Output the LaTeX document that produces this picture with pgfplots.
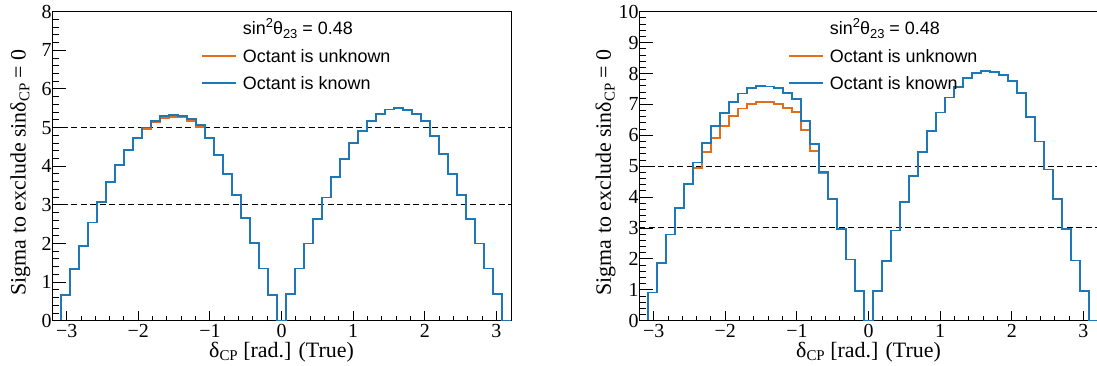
\documentclass[border=0pt]{standalone}
\usepackage{fontspec}
\setmainfont{Liberation Serif}
\setsansfont{Liberation Sans}
\usepackage{pgfplots}
\pgfplotsset{compat=1.18}
\usepackage{pgfplotstable}
\definecolor{corange}{RGB}{228,110,24}
\definecolor{cblue}{RGB}{30,120,182}
\newcommand{\lsub}[1]{\raisebox{-0.38ex}{\fontsize{15}{15}\selectfont #1}}
\newcommand{\ssub}[1]{\raisebox{-0.4ex}{\fontsize{13}{13}\selectfont #1}}
\newcommand{\ssup}[1]{\raisebox{0.7ex}{\fontsize{13}{13}\selectfont #1}}

\pgfplotstableread{
x lk lu rk ru
-3.2044 0 0 0 0
-3.0788 0.66 0.66 0.91 0.91
-2.9531 1.33 1.33 1.88 1.88
-2.8274 1.94 1.94 2.79 2.79
-2.7018 2.54 2.54 3.65 3.65
-2.5761 3.08 3.08 4.43 4.43
-2.4504 3.59 3.59 5.12 4.95
-2.3248 4.03 4.03 5.76 5.46
-2.1991 4.42 4.42 6.29 5.91
-2.0735 4.74 4.74 6.73 6.31
-1.9478 5.00 4.96 7.09 6.63
-1.8221 5.18 5.13 7.35 6.87
-1.6965 5.29 5.24 7.52 7.00
-1.5708 5.33 5.28 7.59 7.07
-1.4451 5.31 5.26 7.58 7.07
-1.3195 5.23 5.17 7.52 7.01
-1.1938 5.07 5.02 7.38 6.89
-1.0681 4.73 4.73 7.18 6.75
-0.9425 4.28 4.28 6.46 6.16
-0.8168 3.80 3.80 5.72 5.48
-0.6912 3.25 3.25 4.82 4.77
-0.5655 2.66 2.66 3.95 3.95
-0.4398 2.01 2.01 2.98 2.98
-0.3142 1.35 1.35 1.98 1.98
-0.1885 0.66 0.66 0.96 0.96
-0.0628 0 0 0 0
0.0628 0.70 0.70 0.97 0.97
0.1885 1.35 1.35 1.94 1.94
0.3142 2.00 2.00 2.92 2.92
0.4398 2.64 2.64 3.84 3.84
0.5655 3.19 3.19 4.67 4.67
0.6912 3.72 3.72 5.45 5.45
0.8168 4.18 4.18 6.14 6.14
0.9425 4.60 4.60 6.74 6.74
1.0681 4.92 4.92 7.22 7.22
1.1938 5.17 5.17 7.57 7.57
1.3195 5.36 5.36 7.85 7.85
1.4451 5.47 5.47 8.02 8.02
1.5708 5.51 5.51 8.08 8.08
1.6965 5.46 5.46 8.06 8.06
1.8221 5.35 5.35 7.96 7.96
1.9478 5.17 5.17 7.76 7.76
2.0735 4.78 4.78 7.37 7.37
2.1991 4.32 4.32 6.60 6.60
2.3248 3.80 3.80 5.80 5.80
2.4504 3.25 3.25 4.89 4.89
2.5761 2.64 2.64 3.94 3.94
2.7018 2.00 2.00 2.96 2.96
2.8274 1.35 1.35 1.95 1.95
2.9531 0.69 0.69 0.97 0.97
3.0788 0 0 0 0
3.2044 0 0 0 0
}\histdata

\pgfplotsset{
  panel/.style={
    scale only axis, width=459bp, height=309bp,
    xmin=-3.2044, xmax=3.2044, ymin=0,
    tick align=inside,
    axis line style={black, line width=1bp},
    tick style={black, line width=0.9bp},
  },
  mainpanel/.style={
    panel,
    ytick=\empty,
    xtick={-3,-2,-1,0,1,2,3},
    xticklabels={−3,−2,−1,0,1,2,3},
    minor x tick num=4,
    xtick pos=bottom,
    major tick length=9.3bp, minor tick length=4.6bp,
    xticklabel style={font=\fontsize{20}{20}\selectfont},
    xlabel={δ\lsub{CP} [rad.] (True)},
    xlabel style={font=\fontsize{22}{22}\selectfont, at={(axis description cs:0.5,-0.1175)}, anchor=base},
    ylabel={Sigma to exclude sinδ\lsub{CP} = 0},
    ylabel style={font=\fontsize{22}{22}\selectfont, anchor=center},
    legend style={draw=none, fill=none, at={(axis description cs:0.318,0.975)}, anchor=north west,
      font=\sffamily\fontsize{18}{18}\selectfont, row sep=14.5bp, column sep=6bp,
      nodes={inner sep=0pt, text height=13bp, text depth=0bp}},
    legend cell align=left,
    legend image code/.code={\draw[##1, line width=1.8bp] (0bp,0bp) -- (34bp,0bp);},
  },
  ypanel/.style={
    panel,
    xtick=\empty,
    axis line style={draw=none},
    minor y tick num=4,
    ytick pos=left,
    major tick length=13.8bp, minor tick length=6.9bp,
    yticklabel style={font=\fontsize{20}{20}\selectfont, xshift=3bp},
  },
  hist/.style={const plot mark left, mark=none, line width=1.8bp},
  refl/.style={forget plot, black, line width=1bp, dash pattern=on 6bp off 3.5bp},
}

\begin{document}
\begin{tikzpicture}
\path[use as bounding box] (0,0) rectangle (1097bp,366bp);

% ---------- left panel ----------
\begin{axis}[mainpanel, at={(52bp,45.3bp)}, anchor=south west, ymax=8,
  ylabel style={at={(axis description cs:-0.069,0.48)}}]
\addplot[refl] coordinates {(-3.2044,3) (3.2044,3)};
\addplot[refl] coordinates {(-3.2044,5) (3.2044,5)};
\addlegendimage{empty legend}
\addlegendentry{sin\ssup{2}θ\ssub{23} = 0.48}
\addplot[hist, corange] table[x=x, y=lu] {\histdata};
\addlegendentry{Octant is unknown}
\addplot[hist, cblue] table[x=x, y=lk] {\histdata};
\addlegendentry{Octant is known}
\end{axis}
\begin{axis}[ypanel, at={(52bp,45.3bp)}, anchor=south west, ymax=8,
  ytick={0,1,2,3,4,5,6,7,8}, yticklabels={0,1,2,3,4,5,6,7,8}]
\end{axis}

% ---------- right panel ----------
\begin{axis}[mainpanel, at={(639bp,45.3bp)}, anchor=south west, ymax=10,
  ylabel style={at={(axis description cs:-0.073,0.48)}}]
\addplot[refl] coordinates {(-3.2044,3) (3.2044,3)};
\addplot[refl] coordinates {(-3.2044,5) (3.2044,5)};
\addlegendimage{empty legend}
\addlegendentry{sin\ssup{2}θ\ssub{23} = 0.48}
\addplot[hist, corange] table[x=x, y=ru] {\histdata};
\addlegendentry{Octant is unknown}
\addplot[hist, cblue] table[x=x, y=rk] {\histdata};
\addlegendentry{Octant is known}
\end{axis}
\begin{axis}[ypanel, at={(639bp,45.3bp)}, anchor=south west, ymax=10,
  ytick={0,1,2,3,4,5,6,7,8,9,10}, yticklabels={0,1,2,3,4,5,6,7,8,9,10}]
\end{axis}
\end{tikzpicture}
\end{document}
